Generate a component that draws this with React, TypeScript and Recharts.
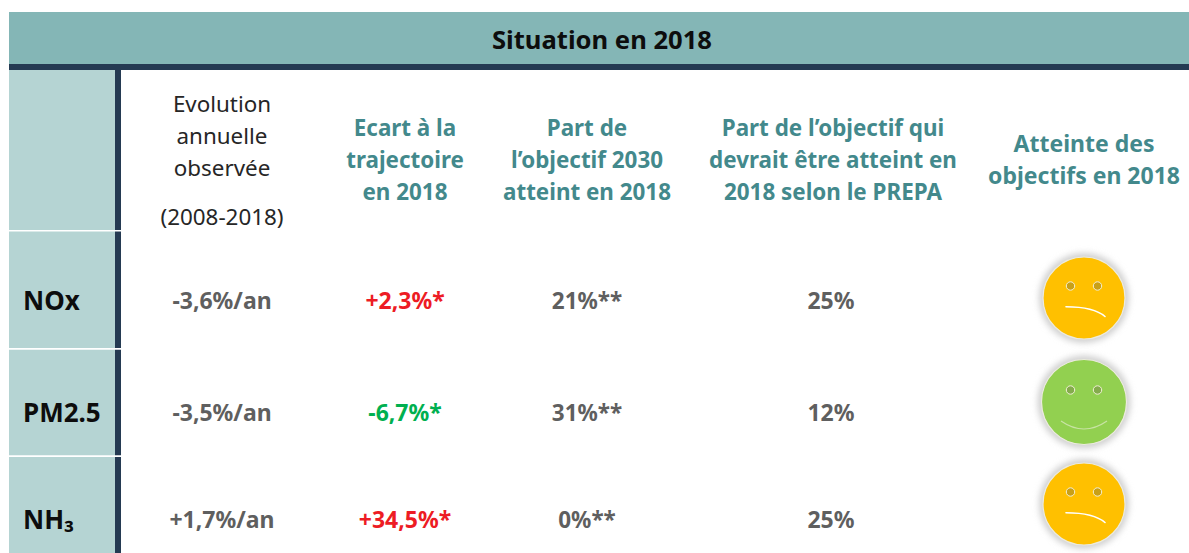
import { ScatterChart, Scatter, XAxis, YAxis, ReferenceArea } from 'recharts';

const WIDTH = 1189;
const HEIGHT = 553;
const FONT = '"Noto Sans", sans-serif';

// table content
const title = 'Situation en 2018';
const pollutants = ['NOx', 'PM2.5', 'NH₃'];
const evolution = ['-3,6%/an', '-3,5%/an', '+1,7%/an'];
const ecart = ['+2,3%*', '-6,7%*', '+34,5%*'];
const partAtteinte = ['21%**', '31%**', '0%**'];
const partPrepa = ['25%', '12%', '25%'];
const moods = ['sad', 'happy', 'sad'];

const evolutionHead = ['Evolution', 'annuelle', 'observée'];
const evolutionPeriod = '(2008-2018)';
const ecartHead = ['Ecart à la', 'trajectoire', 'en 2018'];
const partHead = ['Part de', 'l’objectif 2030', 'atteint en 2018'];
const prepaHead = ['Part de l’objectif qui', 'devrait être atteint en', '2018 selon le PREPA'];
const atteinteHead = ['Atteinte des', 'objectifs en 2018'];

// layout, in chart units (axes run 1:1 with the page)
const colX = [222, 405, 587, 831, 1084];
const prepaHeadX = 833;
const rowY = [300, 412, 519];
const smileyY = [298, 402, 504];
const labelX = 23;
const lineGap = 32;

const GREY = '#5f5f5f';
const TEAL = '#43898c';
const RED = '#ed1c24';
const GREEN = '#00b050';
const ecartColors = [RED, GREEN, RED];

const TextCell = (props: any) => {
  const { cx, cy, payload } = props;
  return (
    <text
      x={cx}
      y={cy}
      textAnchor={payload.anchor || 'middle'}
      dominantBaseline='central'
      fontFamily={FONT}
      fontSize={payload.size}
      fontWeight={payload.weight}
      fill={payload.color}
    >
      {payload.label}
    </text>
  );
};

const Smiley = (props: any) => {
  const { cx, cy, payload } = props;
  const happy = payload.mood === 'happy';
  const r = happy ? 42.5 : 41;
  const fill = happy ? '#92d050' : '#ffc000';
  const eye = happy ? '#84ac4c' : '#c9a017';
  return (
    <g>
      <circle cx={cx} cy={cy} r={r + 4} fill='#d0d0d0' filter='url(#glow)' />
      <circle cx={cx} cy={cy} r={r} fill={fill} stroke='#ecebdf' strokeWidth={1.2} />
      <circle cx={cx - 13.5} cy={cy - 12} r={4.2} fill={eye} stroke='#f2efd8' strokeWidth={1} />
      <circle cx={cx + 13.5} cy={cy - 12} r={4.2} fill={eye} stroke='#f2efd8' strokeWidth={1} />
      {happy ? (
        <path
          d={`M${cx - 23} ${cy + 19} Q${cx} ${cy + 35} ${cx + 23} ${cy + 19}`}
          fill='none'
          stroke='#c8e3a4'
          strokeWidth={1.2}
        />
      ) : (
        <path
          d={`M${cx - 18} ${cy + 8.7} Q${cx + 10} ${cy + 8.7} ${cx + 21} ${cy + 18.5}`}
          fill='none'
          stroke='#fff'
          strokeWidth={1.6}
          strokeLinecap='round'
        />
      )}
    </g>
  );
};

const headLines = (lines: string[], x: number, firstY: number, color: string, weight: number, size: number) =>
  lines.map((label, i) => ({ x, y: firstY + i * lineGap, label, color, weight, size }));

const titleCell = [{ x: 602, y: 39, label: title, color: '#0d0d0d', weight: 700, size: 25.6 }];

const headCells = [
  ...headLines(evolutionHead, colX[0], 103, '#262626', 400, 22.4),
  { x: colX[0], y: 216, label: evolutionPeriod, color: '#262626', weight: 400, size: 22.4 },
  ...headLines(ecartHead, colX[1], 127, TEAL, 700, 22.4),
  ...headLines(partHead, colX[2], 127, TEAL, 700, 22.4),
  ...headLines(prepaHead, prepaHeadX, 127, TEAL, 700, 22.4),
  ...headLines(atteinteHead, colX[4], 143, TEAL, 700, 23),
];

const rowCells = pollutants.flatMap((name, i) => [
  { x: labelX, y: rowY[i], label: name, color: '#0d0d0d', weight: 700, size: 26, anchor: 'start' },
  { x: colX[0], y: rowY[i], label: evolution[i], color: GREY, weight: 700, size: 23 },
  { x: colX[1], y: rowY[i], label: ecart[i], color: ecartColors[i], weight: 700, size: 23 },
  { x: colX[2], y: rowY[i], label: partAtteinte[i], color: GREY, weight: 700, size: 22.5 },
  { x: colX[3], y: rowY[i], label: partPrepa[i], color: GREY, weight: 700, size: 23 },
]);

const smileys = moods.map((mood, i) => ({ x: colX[4], y: smileyY[i], mood }));

const App = () => {
  return (
    <div style={{ position: 'absolute', left: 0, top: 0 }}>
      <ScatterChart width={WIDTH} height={HEIGHT} margin={{ top: 0, right: 0, bottom: 0, left: 0 }}>
        <defs>
          <filter id='glow' x='-20%' y='-20%' width='140%' height='140%'>
            <feGaussianBlur stdDeviation='3' />
          </filter>
        </defs>
        <XAxis type='number' dataKey='x' domain={[0, WIDTH]} hide />
        <YAxis type='number' dataKey='y' domain={[0, HEIGHT]} reversed hide />
        <ReferenceArea x1={9} x2={WIDTH} y1={12} y2={64} fill='#84b6b6' fillOpacity={1} stroke='none' />
        <ReferenceArea x1={9} x2={WIDTH} y1={64} y2={70} fill='#243a52' fillOpacity={1} stroke='none' />
        <ReferenceArea x1={9} x2={115} y1={70} y2={553} fill='#b5d4d3' fillOpacity={1} stroke='none' />
        <ReferenceArea x1={115} x2={121} y1={70} y2={553} fill='#243a52' fillOpacity={1} stroke='none' />
        <ReferenceArea x1={9} x2={121} y1={230} y2={231.5} fill='#fff' fillOpacity={1} stroke='none' />
        <ReferenceArea x1={9} x2={121} y1={348} y2={349.8} fill='#fff' fillOpacity={1} stroke='none' />
        <ReferenceArea x1={9} x2={121} y1={455.3} y2={457} fill='#fff' fillOpacity={1} stroke='none' />
        <Scatter data={titleCell} shape={TextCell} isAnimationActive={false} />
        <Scatter data={headCells} shape={TextCell} isAnimationActive={false} />
        <Scatter data={rowCells} shape={TextCell} isAnimationActive={false} />
        <Scatter data={smileys} shape={Smiley} isAnimationActive={false} />
      </ScatterChart>
    </div>
  );
};

export default App;
